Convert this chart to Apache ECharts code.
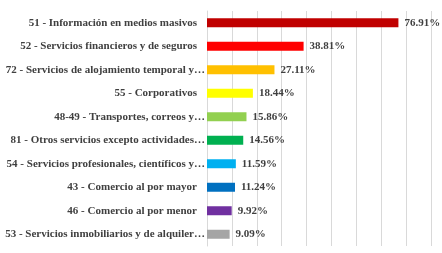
<!DOCTYPE html>
<html>
<head>
<meta charset="utf-8">
<script src="https://cdn.jsdelivr.net/npm/echarts@6/dist/echarts.min.js"></script>
<style>
  html, body { margin: 0; padding: 0; background: #fff; }
  #main { width: 442px; height: 253px; }
</style>
</head>
<body>
<div id="main"></div>
<script>
// categorías y porcentajes
let sectores = [
    '51 - Información en medios masivos',
    '52 - Servicios financieros y de seguros',
    '72 - Servicios de alojamiento temporal y…',
    '55 - Corporativos',
    '48-49 - Transportes, correos y…',
    '81 - Otros servicios excepto actividades…',
    '54 - Servicios profesionales, científicos y…',
    '43 - Comercio al por mayor',
    '46 - Comercio al por menor',
    '53 - Servicios inmobiliarios y de alquiler…'
];
let porcentajes = [76.91, 38.81, 27.11, 18.44, 15.86, 14.56, 11.59, 11.24, 9.92, 9.09];
let colores = ['#C00000', '#FF0000', '#FFC000', '#FFFF00', '#92D050',
               '#00B050', '#00B0F0', '#0070C0', '#7030A0', '#A5A5A5'];

let fuente = '"Liberation Serif", "Times New Roman", serif';

let chart = echarts.init(document.getElementById('main'));
chart.setOption({
    animation: false,
    grid: { left: 207, right: 11, top: 11, bottom: 7 },
    xAxis: {
        type: 'value',
        min: 0,
        max: 90,
        interval: 10,
        axisLabel: { show: false },
        axisLine: { show: false },
        axisTick: { show: false },
        splitLine: { lineStyle: { color: '#D9D9D9', width: 1 } }
    },
    yAxis: {
        type: 'category',
        inverse: true,
        data: sectores,
        axisLine: { lineStyle: { color: '#D9D9D9' } },
        axisTick: { show: false },
        axisLabel: {
            margin: 2,
            fontFamily: fuente,
            fontWeight: 'bold',
            fontSize: 11,
            color: '#404040',
            formatter: v => v.endsWith('…') ? '{t|' + v + '}' : '{a|' + v + '}',
            rich: {
                a: { fontFamily: fuente, fontWeight: 'bold', fontSize: 11, color: '#404040', padding: [0, 8, 0, 0] },
                t: { fontFamily: fuente, fontWeight: 'bold', fontSize: 11, color: '#404040' }
            }
        }
    },
    series: [
        {
            type: 'bar',
            barWidth: 9,
            data: porcentajes.map((v, i) => ({ value: v, itemStyle: { color: colores[i] } })),
            label: {
                show: true,
                position: 'right',
                distance: 6,
                fontFamily: fuente,
                fontWeight: 'bold',
                fontSize: 11,
                color: '#404040',
                formatter: p => p.value.toFixed(2) + '%'
            }
        }
    ]
});
</script>
</body>
</html>
